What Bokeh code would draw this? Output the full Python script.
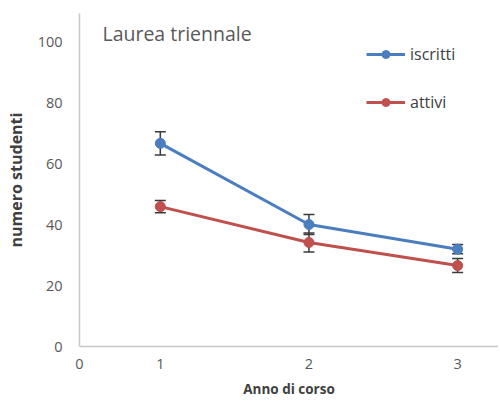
from bokeh.plotting import figure
from bokeh.models import ColumnDataSource, Whisker, TeeHead, Label, FixedTicker
from bokeh.embed import file_html
from bokeh.resources import INLINE

# Data
anno = [1, 2, 3]
iscritti = [66.8, 40.1, 32.0]
iscritti_err = [3.8, 3.3, 1.5]
attivi = [46.0, 34.2, 26.6]
attivi_err = [2.0, 3.1, 2.3]
series_names = ["iscritti", "attivi"]
title_text = "Laurea triennale"
x_label = "Anno di corso"
y_label = "numero studenti"
y_ticks = [0, 20, 40, 60, 80, 100]

FONT = "Open Sans"
BLUE = "#4a7ebf"
RED = "#c0504d"
ERR = "#3a3a3a"

x_start, x_end = 0.4564, 3.275
y_start, y_end = 0.0, 109.5
p = figure(width=498, height=405, output_backend="svg", toolbar_location=None,
           x_range=(x_start, x_end), y_range=(y_start, y_end),
           min_border_left=79, min_border_right=0, min_border_top=13, min_border_bottom=59)
p.outline_line_color = None
p.xgrid.grid_line_color = None
p.ygrid.grid_line_color = None
p.background_fill_color = "white"

def mk_src(y, e):
    return ColumnDataSource(dict(x=anno, y=y, lo=[a - b for a, b in zip(y, e)],
                                 hi=[a + b for a, b in zip(y, e)]))

s1 = mk_src(iscritti, iscritti_err)
s2 = mk_src(attivi, attivi_err)

for src, col, name in [(s1, BLUE, series_names[0]), (s2, RED, series_names[1])]:
    p.line("x", "y", source=src, line_color=col, line_width=3, legend_label=name)
    p.scatter("x", "y", source=src, size=10, fill_color=col, line_color=col, legend_label=name)

for src in (s1, s2):
    w = Whisker(base="x", lower="lo", upper="hi", source=src, line_color=ERR, line_width=1.5,
                upper_head=TeeHead(size=11, line_color=ERR, line_width=1.5),
                lower_head=TeeHead(size=11, line_color=ERR, line_width=1.5))
    p.add_layout(w)

# Axes
for ax in (p.xaxis[0], p.yaxis[0]):
    ax.axis_line_color = "#c8c8c8"
    ax.axis_line_width = 1.5
    ax.major_tick_line_color = None
    ax.minor_tick_line_color = None
    ax.major_tick_out = 0
    ax.major_tick_in = 0
    ax.minor_tick_out = 0
    ax.minor_tick_in = 0
    ax.major_label_text_font = FONT
    ax.major_label_text_font_size = "14.5px"
    ax.major_label_text_color = "#595959"
    ax.axis_label_text_font = FONT
    ax.axis_label_text_font_style = "bold"
    ax.axis_label_text_color = "#404040"

p.xaxis.ticker = FixedTicker(ticks=[x_start] + anno)
p.xaxis.major_label_overrides = {x_start: "0"}
p.xaxis.major_label_standoff = 12
p.xaxis.axis_label = x_label
p.xaxis.axis_label_text_font_size = "13.5px"
p.xaxis.axis_label_standoff = 8

p.yaxis.ticker = FixedTicker(ticks=y_ticks)
p.yaxis.major_label_standoff = 17
p.yaxis.axis_label = y_label
p.yaxis.axis_label_text_font_size = "16px"
p.yaxis.axis_label_standoff = 8

p.add_layout(Label(x=0.611, y=102.8, text=title_text, text_font=FONT, text_font_size="19.5px",
                   text_color="#595959", text_baseline="alphabetic"))

leg = p.legend[0]
leg.location = (287, 233)
leg.glyph_width = 39
leg.glyph_height = 20
leg.label_height = 20
leg.spacing = 26
leg.padding = 0
leg.margin = 0
leg.label_standoff = 5
leg.border_line_color = None
leg.background_fill_alpha = 0
leg.label_text_font = FONT
leg.label_text_font_size = "16px"
leg.label_text_color = "#404040"

open("out.html", "w").write(file_html(p, INLINE))
